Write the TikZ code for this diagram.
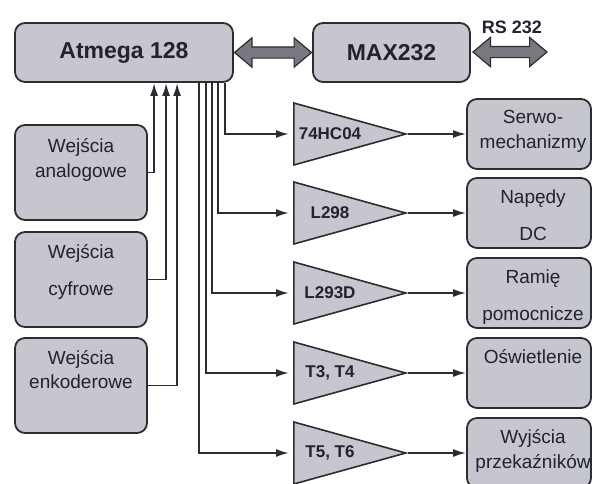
\documentclass[tikz,border=0pt]{standalone}
\usepackage{fontspec}
\setmainfont{Liberation Sans}
\usetikzlibrary{arrows.meta, positioning, shapes.geometric, shapes.arrows, calc}
\definecolor{boxgray}{RGB}{198,198,206}
\definecolor{linkgray}{RGB}{120,120,128}
\definecolor{edgegray}{RGB}{42,45,50}
\definecolor{textgray}{RGB}{34,34,48}

\begin{document}
\begin{tikzpicture}[
x=1pt, y=-1pt,
block/.style={draw=edgegray, line width=1.8pt, fill=boxgray, rounded corners=10pt, inner sep=0pt},
chip/.style={block, text=textgray, font=\fontsize{23}{27}\selectfont\bfseries},
inbox/.style={block, minimum width=132pt, minimum height=95pt},
outbox/.style={block, minimum width=124pt, minimum height=70pt},
amp/.style={draw=edgegray, line width=1.6pt, fill=boxgray, isosceles triangle, isosceles triangle stretches, minimum width=62pt, minimum height=112pt, inner sep=0pt, anchor=lower side},
txt/.style={font=\fontsize{19}{25}\selectfont, text=textgray, align=center, anchor=base, inner sep=0pt},
amptxt/.style={font=\fontsize{17}{20}\selectfont\bfseries, text=textgray, inner sep=0pt},
link/.style={double arrow, draw=edgegray, line width=1.2pt, fill=linkgray, inner sep=5pt, double arrow head extend=9pt, double arrow tip angle=80},
arrow/.style={-{Latex[length=13pt,width=8pt]}, line width=1.9pt, draw=edgegray},
toamp/.style={arrow, shorten >=4pt}
]
\useasboundingbox (0,0) rectangle (593,483);

% controller and serial link
\node[chip, minimum width=218pt, minimum height=59pt] (atm) at (124,52.5) {Atmega 128};
\node[chip, minimum width=157pt, minimum height=59pt] (max) at (391.5,52.5) {MAX232};
\node[link, minimum height=77pt] (link1) at ($(atm.east)!0.5!(max.west)$) {};
\node[link, minimum height=74pt] (link2) at (510,52) {};
\node[font=\fontsize{18}{20}\selectfont\bfseries, text=textgray, anchor=base, inner sep=0pt] (rs) at (512,33) {RS 232};

% inputs (base = last line)
\node[inbox] (in1) at (81,172.5) {};
\node[inbox] (in2) at (81,279.5) {};
\node[inbox] (in3) at (81,385.5) {};
\node[txt] (in1t) at (81,177) {Wejścia\\analogowe};
\node[txt] (in2t) at (81,295) {Wejścia\\[12pt]cyfrowe};
\node[txt] (in3t) at (81,388) {Wejścia\\[-1pt]enkoderowe};

% drivers
\node[amp] (a1) at (293,134) {};
\node[amp] (a2) at (293,213) {};
\node[amp] (a3) at (293,293) {};
\node[amp] (a4) at (293,373) {};
\node[amp] (a5) at (293,453) {};
\node[amptxt] (a1t) at (330,134) {74HC04};
\node[amptxt] (a2t) at (330,213) {L298};
\node[amptxt] (a3t) at (330,293) {L293D};
\node[amptxt] (a4t) at (330,373) {T3, T4};
\node[amptxt] (a5t) at (330,453) {T5, T6};

% outputs
\node[outbox] (o1) at (529,134) {};
\node[outbox] (o2) at (529,213) {};
\node[outbox] (o3) at (529,293) {};
\node[outbox] (o4) at (529,373) {};
\node[outbox] (o5) at (529,453) {};
\node[txt] (o1t) at (533,148) {Serwo-\\mechanizmy};
\node[txt] (o2t) at (533,240) {Napędy\\[12pt]DC};
\node[txt] (o3t) at (533,320) {Ramię\\[12pt]pomocnicze};
\node[txt] (o4t) at (533,363) {Oświetlenie};
\node[txt] (o5t) at (533,468) {Wyjścia\\przekaźników};

% connections
\draw[arrow] (in1.east) -| ([xshift=140pt]atm.south west);
\draw[arrow] (in2.east) -| ([xshift=152pt]atm.south west);
\draw[arrow] (in3.east) -| ([xshift=163pt]atm.south west);
\draw[toamp] ([xshift=211pt]atm.south west) |- (a1.lower side);
\draw[toamp] ([xshift=204pt]atm.south west) |- (a2.lower side);
\draw[toamp] ([xshift=198pt]atm.south west) |- (a3.lower side);
\draw[toamp] ([xshift=192pt]atm.south west) |- (a4.lower side);
\draw[toamp] ([xshift=185pt]atm.south west) |- (a5.lower side);
\draw[arrow] (a1.apex) -- (o1.west);
\draw[arrow] (a2.apex) -- (o2.west);
\draw[arrow] (a3.apex) -- (o3.west);
\draw[arrow] (a4.apex) -- (o4.west);
\draw[arrow] (a5.apex) -- (o5.west);
\end{tikzpicture}
\end{document}
